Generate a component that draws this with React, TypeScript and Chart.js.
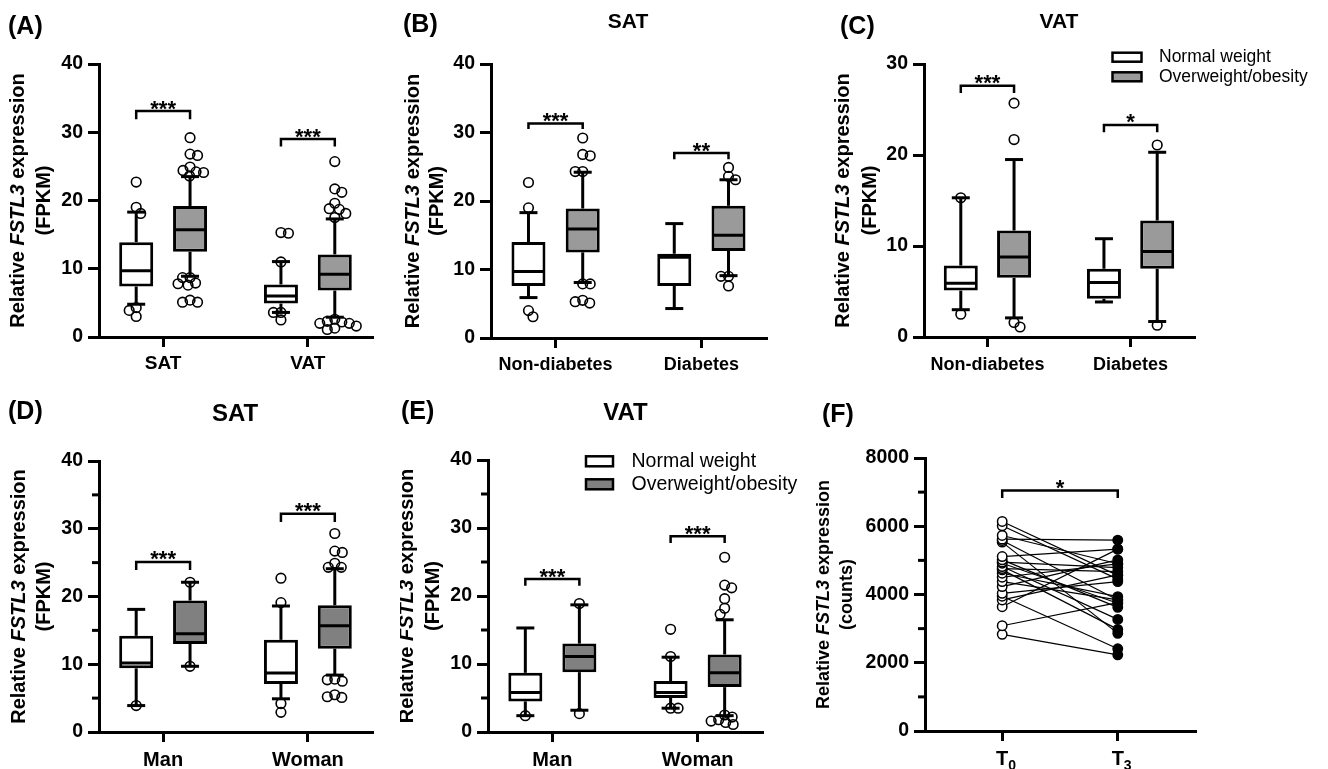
import React, { useEffect, useRef } from "react";
import { Chart, registerables } from "chart.js";
Chart.register(...registerables);

const FONT = "'Liberation Sans', Arial, Helvetica, sans-serif";
Chart.defaults.font.family = FONT;

// ---------------- DATA ----------------
// box stats: [lower whisker, Q1, median, Q3, upper whisker]
// Panel A
const catsA = ["SAT", "VAT"];
const boxA_normal = [[4.8, 7.4, 9.7, 13.9, 18.3], [3.6, 4.9, 6.0, 7.7, 11.05]];
const boxA_over = [[8.9, 12.5, 15.7, 19.2, 23.5], [2.9, 6.8, 9.2, 12.1, 17.3]];
const outA_normal = [[22.7, 19.0, 18.1, 4.3, 3.9, 3.0], [15.3, 15.2, 11.0, 3.6, 3.6, 2.5]];
const outA_over = [
  [29.2, 26.8, 26.6, 24.9, 24.4, 24.2, 24.1, 23.6, 8.7, 8.7, 7.9, 7.8, 7.6, 5.4, 5.1, 5.1],
  [25.7, 21.7, 21.2, 19.6, 18.8, 18.7, 18.1, 17.5, 2.6, 2.3, 2.2, 2.0, 2.0, 1.6, 1.3, 1.1],
];
const sigA_y = [33.1, 29.0];
const sigA_leg = [31.9, 27.9];
const sigA_text = ["***", "***"];

// Panel B (SAT)
const catsB = ["Non-diabetes", "Diabetes"];
const boxB_normal = [[5.9, 7.6, 9.7, 14.0, 18.3], [4.3, 7.6, 11.8, 12.3, 16.7]];
const boxB_over = [[8.1, 12.5, 15.9, 18.9, 24.2], [9.1, 12.7, 15.0, 19.3, 23.1]];
const outB_normal = [[22.7, 19.0, 4.0, 3.1], []];
const outB_over = [[29.2, 26.8, 26.6, 24.3, 24.3, 7.9, 7.9, 5.5, 5.3, 5.1], [24.9, 23.6, 23.1, 9.0, 9.0, 7.6]];
const sigB_y = [31.3, 27.0];
const sigB_leg = [30.5, 26.1];
const sigB_text = ["***", "**"];

// Panel C (VAT)
const catsC = ["Non-diabetes", "Diabetes"];
const boxC_normal = [[3.0, 5.1, 5.9, 7.85, 15.3], [3.85, 4.2, 6.0, 7.5, 10.8]];
const boxC_over = [[2.1, 6.5, 8.8, 11.7, 19.5], [1.7, 7.5, 9.4, 12.8, 20.3]];
const outC_normal = [[15.3, 2.5], []];
const outC_over = [[25.7, 21.7, 1.6, 1.1], [21.1, 1.3]];
const sigC_y = [27.6, 23.3];
const sigC_leg = [26.8, 22.5];
const sigC_text = ["***", "*"];

// Panel D (SAT, sex)
const catsD = ["Man", "Woman"];
const boxD_normal = [[3.9, 9.4, 10.2, 14.2, 18.1], [4.9, 7.1, 8.7, 13.6, 18.6]];
const boxD_over = [[9.7, 13.0, 14.5, 19.4, 22.1], [8.4, 12.3, 15.7, 18.7, 24.1]];
const outD_normal = [[3.9], [22.7, 19.1, 4.2, 2.9]];
const outD_over = [[22.1, 9.7], [29.3, 26.7, 26.5, 24.9, 24.3, 24.3, 7.8, 7.7, 7.5, 5.5, 5.2, 5.1]];
const sigD_y = [25.1, 32.2];
const sigD_leg = [23.9, 31.0];
const sigD_text = ["***", "***"];

// Panel E (VAT, sex)
const catsE = ["Man", "Woman"];
const boxE_normal = [[2.4, 4.5, 5.8, 8.7, 15.3], [3.5, 5.0, 5.8, 7.5, 11.0]];
const boxE_over = [[3.2, 8.8, 11.1, 13.0, 18.7], [2.4, 6.6, 8.7, 11.4, 16.5]];
const outE_normal = [[2.4], [15.1, 11.1, 3.5, 3.5]];
const outE_over = [[18.9, 2.7], [25.7, 21.6, 21.2, 19.6, 18.2, 17.3, 2.5, 2.2, 1.8, 1.6, 1.4, 1.1]];
const sigE_y = [22.5, 28.8];
const sigE_leg = [21.5, 27.8];
const sigE_text = ["***", "***"];

// Panel F (paired counts)
const catsF = ["T0", "T3"];
const fT0 = [6140, 6013, 5730, 5622, 5580, 5534, 5112, 5015, 4950, 4917, 4819, 4760, 4721, 4623, 4505, 4378, 4231, 4035, 3950, 3840, 3643, 3085, 2832];
const fT3 = [4560, 4450, 4900, 5593, 3840, 2861, 5329, 3624, 4789, 3742, 3271, 4671, 2978, 3937, 4897, 3840, 5015, 4378, 2410, 4574, 5329, 3760, 2233];
const sigF_y = [7050];
const sigF_leg = [6827];
const sigF_text = ["*"];

const seriesLabels = ["Normal weight", "Overweight/obesity"];

// ---------------- LAYOUT / STYLE ----------------
const Y_W = 70;
const X_H = 36;
const OFF = 0.186; // group offset from category (x units)
const HALF = 17; // half box width px
const CAP = 9; // whisker cap half width px

interface Frame {
  left: number; top: number; width: number; height: number;
  area: { l: number; t: number; r: number; b: number };
  tag: string; tagX: number; tagY: number;
  sub?: string; subX?: number; subY?: number; subSize?: number;
  ylabX1: number; ylabX2: number; ylabSize: number; unit: string;
  xFont: number; xPad: number;
  legend?: { x: number; y1: number; y2: number; w: number; h: number; tx: number; size: number };
}

const frames: Frame[] = [
  { left: 0, top: 0, width: 400, height: 380, area: { l: 99, t: 64, r: 373, b: 337 }, tag: "(A)", tagX: 8, tagY: 27,
    ylabX1: 18.5, ylabX2: 44, ylabSize: 20, unit: "(FPKM)", xFont: 19, xPad: 5 },
  { left: 400, top: 0, width: 400, height: 380, area: { l: 491, t: 64, r: 767, b: 338 }, tag: "(B)", tagX: 403, tagY: 25,
    sub: "SAT", subX: 628, subY: 22, subSize: 21, ylabX1: 413, ylabX2: 437.5, ylabSize: 20, unit: "(FPKM)", xFont: 18, xPad: 6 },
  { left: 800, top: 0, width: 528, height: 380, area: { l: 924, t: 64, r: 1195, b: 337 }, tag: "(C)", tagX: 840, tagY: 27,
    sub: "VAT", subX: 1059, subY: 22, subSize: 21, ylabX1: 843, ylabX2: 870, ylabSize: 20, unit: "(FPKM)", xFont: 18, xPad: 7,
    legend: { x: 1112.5, y1: 57.2, y2: 76.8, w: 29, h: 9, tx: 1159, size: 17.5 } },
  { left: 0, top: 380, width: 400, height: 389, area: { l: 99, t: 461, r: 373, b: 732 }, tag: "(D)", tagX: 8, tagY: 412,
    sub: "SAT", subX: 235, subY: 414, subSize: 24, ylabX1: 19, ylabX2: 44, ylabSize: 20, unit: "(FPKM)", xFont: 20, xPad: 6 },
  { left: 400, top: 380, width: 400, height: 389, area: { l: 488, t: 460, r: 763, b: 732 }, tag: "(E)", tagX: 401, tagY: 412,
    sub: "VAT", subX: 625.5, subY: 413, subSize: 24, ylabX1: 407.5, ylabX2: 433, ylabSize: 20, unit: "(FPKM)", xFont: 20, xPad: 6,
    legend: { x: 586, y1: 461.3, y2: 484.3, w: 27, h: 10, tx: 631.5, size: 19.5 } },
  { left: 800, top: 380, width: 528, height: 389, area: { l: 925, t: 458, r: 1196, b: 731 }, tag: "(F)", tagX: 822, tagY: 415,
    ylabX1: 824, ylabX2: 847, ylabSize: 18, unit: "(counts)", xFont: 20, xPad: 6 },
];

interface BoxPanel {
  cats: string[]; normal: number[][]; over: number[][]; outNormal: number[][]; outOver: number[][];
  sigY: number[]; sigLeg: number[]; sigText: string[]; yMax: number; yStep: number; minor: boolean; gray: string;
}

const boxPanels: BoxPanel[] = [
  { cats: catsA, normal: boxA_normal, over: boxA_over, outNormal: outA_normal, outOver: outA_over, sigY: sigA_y, sigLeg: sigA_leg, sigText: sigA_text, yMax: 40, yStep: 10, minor: false, gray: "#9a9a9a" },
  { cats: catsB, normal: boxB_normal, over: boxB_over, outNormal: outB_normal, outOver: outB_over, sigY: sigB_y, sigLeg: sigB_leg, sigText: sigB_text, yMax: 40, yStep: 10, minor: false, gray: "#9a9a9a" },
  { cats: catsC, normal: boxC_normal, over: boxC_over, outNormal: outC_normal, outOver: outC_over, sigY: sigC_y, sigLeg: sigC_leg, sigText: sigC_text, yMax: 30, yStep: 10, minor: false, gray: "#9a9a9a" },
  { cats: catsD, normal: boxD_normal, over: boxD_over, outNormal: outD_normal, outOver: outD_over, sigY: sigD_y, sigLeg: sigD_leg, sigText: sigD_text, yMax: 40, yStep: 10, minor: true, gray: "#808080" },
  { cats: catsE, normal: boxE_normal, over: boxE_over, outNormal: outE_normal, outOver: outE_over, sigY: sigE_y, sigLeg: sigE_leg, sigText: sigE_text, yMax: 40, yStep: 10, minor: true, gray: "#808080" },
];

// ---------------- HELPERS ----------------
function padding(f: Frame) {
  return {
    left: f.area.l - f.left - Y_W,
    top: f.area.t - f.top,
    right: f.left + f.width - f.area.r,
    bottom: f.top + f.height - f.area.b - X_H,
  };
}

function yScaleOpts(max: number, step: number) {
  return {
    type: "linear", min: 0, max,
    ticks: { stepSize: step, color: "#000", padding: 5, font: { family: FONT, size: 19.5, weight: "bold" }, callback: (v: number) => String(v) },
    grid: { drawOnChartArea: false, drawTicks: true, tickLength: 11, tickWidth: 3, tickColor: "#000", color: "#000" },
    border: { display: true, color: "#000", width: 3 },
    afterFit: (s: any) => { s.width = Y_W; },
  };
}

function xScaleOpts(min: number, max: number, labels: string[] | null, size: number, pad: number) {
  return {
    type: "linear", min, max, offset: false,
    afterBuildTicks: (s: any) => { s.ticks = [{ value: 1 }, { value: 2 }]; },
    ticks: {
      autoSkip: false, maxRotation: 0, color: "#000", padding: pad,
      font: { family: FONT, size, weight: "bold" },
      callback: (v: number) => (labels ? labels[Math.round(v) - 1] ?? "" : ""),
    },
    grid: { offset: false, drawOnChartArea: false, tickLength: 10, tickWidth: 3, tickColor: "#000", color: "#000" },
    border: { display: true, color: "#000", width: 3 },
    afterFit: (s: any) => { s.height = X_H; },
  };
}

function seg(ctx: CanvasRenderingContext2D, x1: number, y1: number, x2: number, y2: number) {
  ctx.beginPath(); ctx.moveTo(x1, y1); ctx.lineTo(x2, y2); ctx.stroke();
}

function swarm(ys: number[], d: number): [number, number][] {
  const placed: [number, number][] = [];
  let bal = 0;
  for (const y of ys) {
    let chosen = 0;
    outer: for (let o = 0; o <= 60; o += 0.5) {
      const signs = o === 0 ? [1] : bal > 0 ? [-1, 1] : [1, -1];
      for (const sg of signs) {
        const x = o * sg;
        if (placed.every(([px, py]) => Math.hypot(px - x, py - y) >= d)) { chosen = x; break outer; }
      }
    }
    if (chosen > 0) bal++; else if (chosen < 0) bal--;
    placed.push([chosen, y]);
  }
  return placed;
}

function drawCommonText(chart: any, f: Frame) {
  const ctx: CanvasRenderingContext2D = chart.ctx;
  const ca = chart.chartArea;
  ctx.save();
  ctx.fillStyle = "#000";
  ctx.font = `bold 25px ${FONT}`;
  ctx.textAlign = "left"; ctx.textBaseline = "middle";
  ctx.fillText(f.tag, f.tagX - f.left, f.tagY - f.top);
  if (f.sub) {
    ctx.font = `bold ${f.subSize}px ${FONT}`;
    ctx.textAlign = "center";
    ctx.fillText(f.sub, (f.subX as number) - f.left, (f.subY as number) - f.top);
  }
  const cy = (ca.top + ca.bottom) / 2;
  const sz = f.ylabSize;
  const parts: [string, string][] = [["Relative ", "bold"], ["FSTL3", "italic bold"], [" expression", "bold"]];
  ctx.save();
  ctx.translate(f.ylabX1 - f.left, cy);
  ctx.rotate(-Math.PI / 2);
  ctx.textBaseline = "middle"; ctx.textAlign = "left";
  let total = 0;
  const widths = parts.map(([t, st]) => { ctx.font = `${st} ${sz}px ${FONT}`; const w = ctx.measureText(t).width; total += w; return w; });
  let x = -total / 2;
  parts.forEach(([t, st], i) => { ctx.font = `${st} ${sz}px ${FONT}`; ctx.fillText(t, x, 0); x += widths[i]; });
  ctx.restore();
  ctx.save();
  ctx.translate(f.ylabX2 - f.left, cy);
  ctx.rotate(-Math.PI / 2);
  ctx.textBaseline = "middle"; ctx.textAlign = "center";
  ctx.font = `bold ${sz}px ${FONT}`;
  ctx.fillText(f.unit, 0, 0);
  ctx.restore();
  ctx.restore();
}

function drawMinorTicks(chart: any, max: number, step: number) {
  const ctx: CanvasRenderingContext2D = chart.ctx;
  const ys = chart.scales.y;
  const l = chart.chartArea.left;
  ctx.save();
  ctx.strokeStyle = "#000"; ctx.lineWidth = 3;
  for (let v = step / 2; v < max; v += step) {
    const y = ys.getPixelForValue(v);
    seg(ctx, l - 7, y, l, y);
  }
  ctx.restore();
}

function drawBrackets(chart: any, xs: number[][], sigY: number[], sigLeg: number[], sigText: string[]) {
  const ctx: CanvasRenderingContext2D = chart.ctx;
  const xsc = chart.scales.x, ysc = chart.scales.y;
  ctx.save();
  ctx.strokeStyle = "#000"; ctx.fillStyle = "#000"; ctx.lineWidth = 2.5; ctx.lineJoin = "miter";
  sigY.forEach((yv, i) => {
    const x1 = xsc.getPixelForValue(xs[i][0]);
    const x2 = xsc.getPixelForValue(xs[i][1]);
    const yb = ysc.getPixelForValue(yv);
    const yl = ysc.getPixelForValue(sigLeg[i]);
    ctx.beginPath(); ctx.moveTo(x1, yl); ctx.lineTo(x1, yb); ctx.lineTo(x2, yb); ctx.lineTo(x2, yl); ctx.stroke();
    ctx.font = `bold 22px ${FONT}`; ctx.textAlign = "center"; ctx.textBaseline = "alphabetic";
    ctx.fillText(sigText[i], (x1 + x2) / 2, yb + 4.5);
  });
  ctx.restore();
}

function makeBoxConfig(p: BoxPanel, f: Frame): any {
  const plugin = {
    id: "boxExtras",
    afterDatasetsDraw(chart: any) {
      const ctx: CanvasRenderingContext2D = chart.ctx;
      const xs = chart.scales.x, ys = chart.scales.y;
      const groups = [
        { stats: p.normal, out: p.outNormal, dx: -OFF },
        { stats: p.over, out: p.outOver, dx: OFF },
      ];
      ctx.save();
      ctx.strokeStyle = "#000"; ctx.lineWidth = 3; ctx.lineCap = "butt";
      for (const g of groups) {
        g.stats.forEach((s, i) => {
          const cx = xs.getPixelForValue(i + 1 + g.dx);
          const py = s.map((v) => ys.getPixelForValue(v));
          seg(ctx, cx, py[3], cx, py[4]);
          seg(ctx, cx - CAP, py[4], cx + CAP, py[4]);
          seg(ctx, cx, py[1], cx, py[0]);
          seg(ctx, cx - CAP, py[0], cx + CAP, py[0]);
          seg(ctx, cx - HALF + 1, py[2], cx + HALF - 1, py[2]);
        });
      }
      ctx.lineWidth = 1.6;
      for (const g of groups) {
        g.out.forEach((vals, i) => {
          const cx = xs.getPixelForValue(i + 1 + g.dx);
          const pts = swarm(vals.map((v) => ys.getPixelForValue(v)), 7.5);
          pts.forEach(([dx, y]) => { ctx.beginPath(); ctx.arc(cx + dx, y, 4.8, 0, Math.PI * 2); ctx.stroke(); });
        });
      }
      ctx.restore();
      drawBrackets(chart, p.cats.map((_, i) => [i + 1 - OFF, i + 1 + OFF]), p.sigY, p.sigLeg, p.sigText);
    },
    afterDraw(chart: any) {
      drawCommonText(chart, f);
      if (p.minor) drawMinorTicks(chart, p.yMax, p.yStep);
      if (f.legend) {
        const L = f.legend;
        const ctx: CanvasRenderingContext2D = chart.ctx;
        ctx.save();
        chart.data.datasets.forEach((ds: any, i: number) => {
          const cy = (i === 0 ? L.y1 : L.y2) - f.top;
          const x = L.x - f.left;
          ctx.fillStyle = ds.backgroundColor;
          ctx.fillRect(x, cy - L.h / 2, L.w, L.h);
          ctx.strokeStyle = "#000"; ctx.lineWidth = 2.5;
          ctx.strokeRect(x, cy - L.h / 2, L.w, L.h);
          ctx.fillStyle = "#000";
          ctx.font = `${L.size}px ${FONT}`; ctx.textAlign = "left"; ctx.textBaseline = "middle";
          ctx.fillText(ds.label, L.tx - f.left, cy);
        });
        ctx.restore();
      }
    },
  };
  const mk = (stats: number[][], dx: number) => stats.map((s, i) => ({ x: i + 1 + dx, y: [s[1], s[3]] }));
  return {
    type: "bar",
    data: {
      datasets: [
        { label: seriesLabels[0], data: mk(p.normal, -OFF), backgroundColor: "#ffffff", borderColor: "#000", borderWidth: 3, borderSkipped: false, barThickness: HALF * 2, grouped: false, inflateAmount: 0 },
        { label: seriesLabels[1], data: mk(p.over, OFF), backgroundColor: p.gray, borderColor: "#000", borderWidth: 3, borderSkipped: false, barThickness: HALF * 2, grouped: false, inflateAmount: 0 },
      ],
    },
    options: {
      responsive: false, animation: false, devicePixelRatio: 1, events: [],
      layout: { padding: padding(f), autoPadding: false },
      plugins: { legend: { display: false }, tooltip: { enabled: false } },
      scales: { x: xScaleOpts(0.557, 2.45, p.cats, f.xFont, f.xPad), y: yScaleOpts(p.yMax, p.yStep) },
    },
    plugins: [plugin],
  };
}

function makePairConfig(f: Frame): any {
  const plugin = {
    id: "pairExtras",
    afterDatasetsDraw(chart: any) {
      drawBrackets(chart, [[1, 2]], sigF_y, sigF_leg, sigF_text);
    },
    afterDraw(chart: any) {
      drawCommonText(chart, f);
      drawMinorTicks(chart, 8000, 2000);
      const ctx: CanvasRenderingContext2D = chart.ctx;
      const xs = chart.scales.x;
      ctx.save();
      ctx.fillStyle = "#000"; ctx.textBaseline = "alphabetic";
      const base = chart.chartArea.bottom + 34;
      catsF.forEach((c, i) => {
        const x = xs.getPixelForValue(i + 1);
        ctx.font = `bold ${f.xFont}px ${FONT}`; ctx.textAlign = "center";
        const tw = ctx.measureText(c[0]).width;
        ctx.fillText(c[0], x, base);
        ctx.font = `bold 14px ${FONT}`; ctx.textAlign = "left";
        ctx.fillText(c.slice(1), x + tw / 2, base + 5);
      });
      ctx.restore();
    },
  };
  return {
    type: "line",
    data: {
      datasets: fT0.map((v, i) => ({
        label: `S${i + 1}`,
        data: [{ x: 1, y: v }, { x: 2, y: fT3[i] }],
        borderColor: "#000", borderWidth: 1.2, fill: false,
        pointRadius: 4.7, pointBorderWidth: 1.5, pointBorderColor: "#000",
        pointBackgroundColor: ["#ffffff", "#000000"],
      })),
    },
    options: {
      responsive: false, animation: false, devicePixelRatio: 1, events: [],
      layout: { padding: padding(f), autoPadding: false },
      plugins: { legend: { display: false }, tooltip: { enabled: false } },
      scales: { x: xScaleOpts(0.332, 2.677, null, f.xFont, f.xPad), y: yScaleOpts(8000, 2000) },
    },
    plugins: [plugin],
  };
}

export default function App() {
  const refs = [useRef<HTMLCanvasElement>(null), useRef<HTMLCanvasElement>(null), useRef<HTMLCanvasElement>(null),
    useRef<HTMLCanvasElement>(null), useRef<HTMLCanvasElement>(null), useRef<HTMLCanvasElement>(null)];
  useEffect(() => {
    document.body.style.margin = "0";
    document.body.style.overflow = "hidden";
    const charts: Chart[] = [];
    frames.forEach((f, i) => {
      const cv = refs[i].current;
      if (!cv) return;
      const cfg = i < 5 ? makeBoxConfig(boxPanels[i], f) : makePairConfig(f);
      charts.push(new Chart(cv, cfg));
    });
    return () => charts.forEach((c) => c.destroy());
  }, []);
  return (
    <div style={{ position: "relative", width: 1328, height: 769, background: "#fff", overflow: "hidden" }}>
      {frames.map((f, i) => (
        <canvas key={i} ref={refs[i]} width={f.width} height={f.height}
          style={{ position: "absolute", left: f.left, top: f.top, width: f.width, height: f.height }} />
      ))}
    </div>
  );
}
